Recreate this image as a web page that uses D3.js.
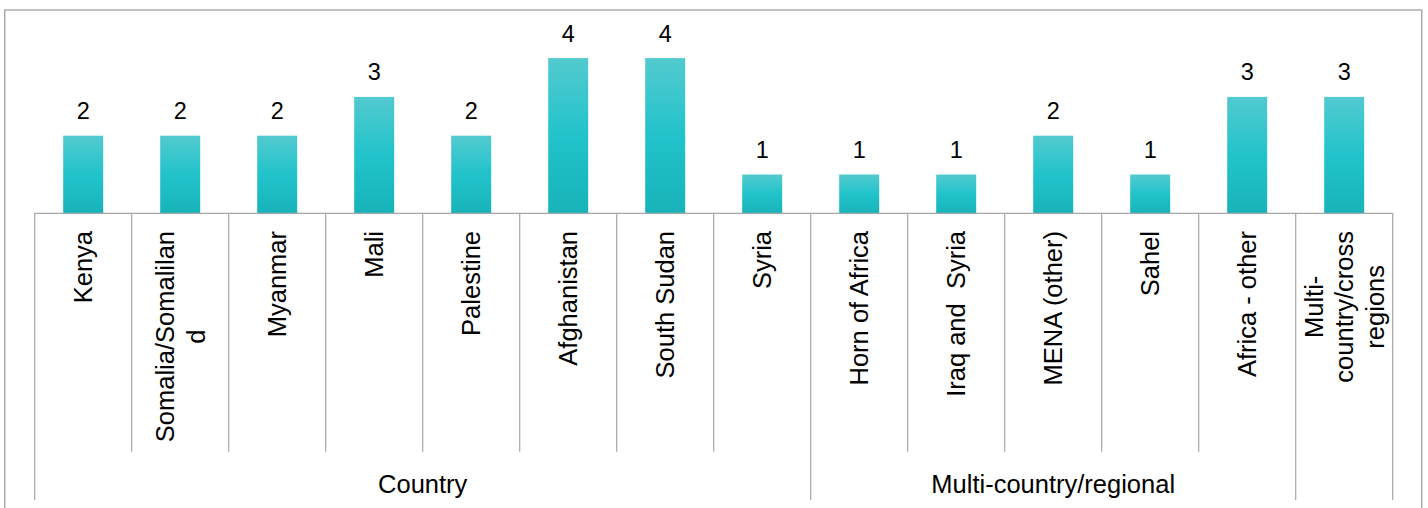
<!DOCTYPE html>
<html><head><meta charset="utf-8">
<script src="https://cdn.jsdelivr.net/npm/d3@7"></script>
<style>
html,body{margin:0;padding:0;background:#fff;}
svg{display:block;font-family:"Liberation Sans",Arial,sans-serif;}
</style>
</head><body>
<svg id="chart" width="1428" height="508"></svg>
<script>
const categories = ["Kenya","Somalia/Somaliland","Myanmar","Mali","Palestine","Afghanistan","South Sudan","Syria","Horn of Africa","Iraq and  Syria","MENA (other)","Sahel","Africa - other","Multi-country/cross regions"];
const values = [2,2,2,3,2,4,4,1,1,1,2,1,3,3];
const labelLines = [["Kenya"],["Somalia/Somalilan","d"],["Myanmar"],["Mali"],["Palestine"],["Afghanistan"],["South Sudan"],["Syria"],["Horn of Africa"],["Iraq and  Syria"],["MENA (other)"],["Sahel"],["Africa - other"],["Multi-","country/cross","regions"]];
const groups = ["Country","Multi-country/regional",""];
const groupSizes = [8,5,1];

const svg = d3.select("#chart");
const axisY = 213.3, left = 34.7, right = 1392.7;
const x = d3.scaleBand().domain(categories).range([left,right]).padding(0);
const y = d3.scaleLinear().domain([0,5]).range([axisY, 19.3]);
const barW = 40;
const lineCol = "#A6A6A6";

// frame
svg.append("rect").attr("x",4.7).attr("y",10).attr("width",1417).attr("height",520)
  .attr("fill","#fff").attr("stroke",lineCol).attr("stroke-width",1.4);

// gradient
const defs = svg.append("defs");
const g = defs.append("linearGradient").attr("id","barGrad").attr("x1",0).attr("y1",0).attr("x2",0).attr("y2",1);
g.append("stop").attr("offset","0%").attr("stop-color","#52CACF");
g.append("stop").attr("offset","50%").attr("stop-color","#22C3CB");
g.append("stop").attr("offset","100%").attr("stop-color","#17B3B9");

// bars
svg.selectAll("rect.bar").data(categories).enter().append("rect").attr("class","bar")
  .attr("x",d=>x(d)+x.bandwidth()/2-barW/2)
  .attr("width",barW)
  .attr("y",(d,i)=>y(values[i]))
  .attr("height",(d,i)=>y(0)-y(values[i]))
  .attr("fill","url(#barGrad)");

// data labels
svg.selectAll("text.val").data(categories).enter().append("text").attr("class","val")
  .attr("x",d=>x(d)+x.bandwidth()/2)
  .attr("y",(d,i)=>y(values[i])-16.5)
  .attr("text-anchor","middle").attr("font-size","23.5px").attr("fill","#000")
  .text((d,i)=>values[i]);

// axis line
svg.append("line").attr("x1",left).attr("x2",right).attr("y1",axisY).attr("y2",axisY)
  .attr("stroke",lineCol).attr("stroke-width",1.2);

// separators
const groupBounds = [0];
groupSizes.forEach(s=>groupBounds.push(groupBounds[groupBounds.length-1]+s));
d3.range(categories.length+1).forEach(i=>{
  const xx = left + i*x.step();
  const isGroup = groupBounds.includes(i);
  svg.append("line").attr("x1",xx).attr("x2",xx).attr("y1",axisY).attr("y2",isGroup?500:451.7)
    .attr("stroke",lineCol).attr("stroke-width",1.2);
});

// category labels
const lineH = 30.6;
categories.forEach((c,i)=>{
  const lines = labelLines[i];
  const cx = x(c)+x.bandwidth()/2;
  const gg = svg.append("g");
  const texts = lines.map((ln,j)=>gg.append("text")
    .attr("font-size","25.5px").attr("fill","#000")
    .attr("text-anchor","middle").attr("dominant-baseline","central")
    .style("white-space","pre")
    .text(ln));
  const maxLen = d3.max(texts, t=>t.node().getComputedTextLength());
  const cy = 231 + maxLen/2;
  texts.forEach((t,j)=>{
    const lx = cx + (j-(lines.length-1)/2)*lineH;
    t.attr("transform",`translate(${lx},${cy}) rotate(-90)`);
  });
});

// group labels
groups.forEach((gname,k)=>{
  if (!gname) return;
  const x0 = left + groupBounds[k]*x.step();
  const x1 = left + groupBounds[k+1]*x.step();
  svg.append("text").attr("x",(x0+x1)/2).attr("y",492.5)
    .attr("text-anchor","middle").attr("font-size","25.5px").attr("fill","#000")
    .text(gname);
});
</script>
</body></html>
